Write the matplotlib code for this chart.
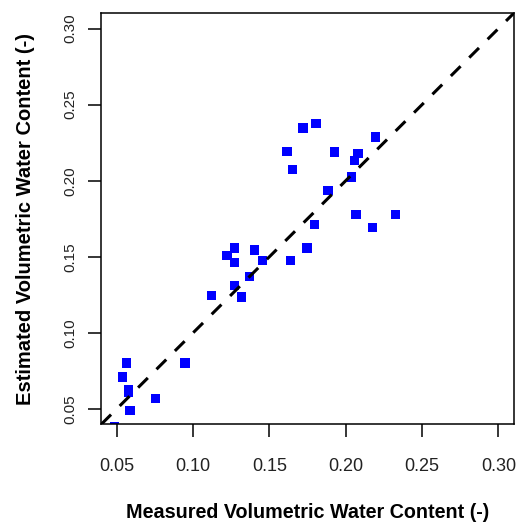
import matplotlib
matplotlib.use('Agg')
import matplotlib.pyplot as plt

# Measured vs estimated volumetric water content
measured = [0.172, 0.1805, 0.2197, 0.1616, 0.1927, 0.208, 0.2058, 0.1652,
            0.2036, 0.1884, 0.2067, 0.2326, 0.1794, 0.2175, 0.1273, 0.1402,
            0.1746, 0.1223, 0.1273, 0.1456, 0.1637, 0.1369, 0.1273, 0.1121,
            0.1317, 0.0565, 0.0947, 0.0541, 0.0576, 0.0578, 0.0753, 0.0587,
            0.0485]
estimated = [0.2346, 0.2377, 0.2287, 0.2193, 0.2188, 0.2178, 0.2134, 0.2075,
             0.2024, 0.1937, 0.1777, 0.1777, 0.1712, 0.1694, 0.1558, 0.1545,
             0.1558, 0.1511, 0.1462, 0.1478, 0.1478, 0.1371, 0.1314, 0.1248,
             0.1237, 0.0802, 0.0802, 0.0710, 0.0628, 0.0610, 0.0570, 0.0491,
             0.0382]
ticks = [0.05, 0.10, 0.15, 0.20, 0.25, 0.30]
lims = (0.04, 0.31)

plt.rcParams['font.family'] = ['Liberation Sans', 'DejaVu Sans']

fig = plt.figure(figsize=(5.2, 5.22), dpi=100)
ax = fig.add_axes([0.1948, 0.1872, 0.9879 - 0.1948, 0.9745 - 0.1872])

ax.scatter(measured, estimated, marker='s', s=45, color='#0000ff',
           edgecolors='none', zorder=2)
ax.plot(lims, lims, color='black', lw=2.2, ls=(0, (4.5, 4)), zorder=3)

ax.set_xlim(lims)
ax.set_ylim(lims)
ax.set_xticks(ticks)
ax.set_yticks(ticks)
ax.set_xticklabels([f'{t:.2f}' for t in ticks], fontsize=13, color='#222222')
ax.set_yticklabels([f'{t:.2f}' for t in ticks], fontsize=11, color='#222222',
                   rotation=90, va='center')
ax.tick_params(axis='x', length=9.5, width=1.1, pad=15)
ax.tick_params(axis='y', length=9.5, width=1.1, pad=8)
for s in ax.spines.values():
    s.set_linewidth(1.1)

ax.set_xlabel('Measured Volumetric Water Content (-)', fontsize=14.2,
              fontweight='bold', labelpad=20)
ax.set_ylabel('Estimated Volumetric Water Content (-)', fontsize=14.5,
              fontweight='bold', labelpad=20)

fig.savefig('out.png', dpi=100)
